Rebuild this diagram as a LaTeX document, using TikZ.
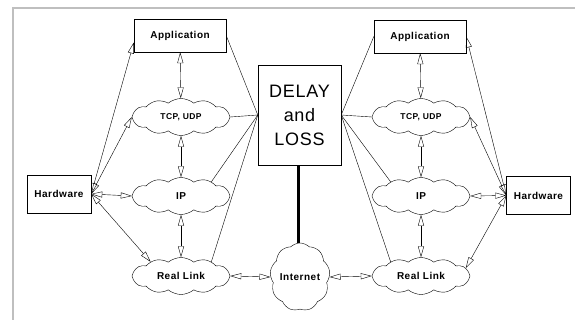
\documentclass[tikz,border=0pt]{standalone}
\usepackage{fontspec}
\setmainfont{Liberation Sans}
\newfontfamily\labelfont[LetterSpace=5]{Liberation Sans}
\newfontfamily\delayfont[LetterSpace=4]{Liberation Sans}
\usetikzlibrary{arrows.meta,shapes.symbols}
\tikzset{
    layerbox/.style={draw,thin,minimum width=92pt,minimum height=33pt,inner sep=0pt,font=\labelfont\bfseries\fontsize{10}{12}\selectfont},
    hwbox/.style={layerbox,minimum width=64pt,minimum height=38pt},
    layercloud/.style={draw,thin,cloud,cloud puffs=12,cloud puff arc=80,cloud ignores aspect,minimum width=98pt,minimum height=37pt,inner sep=0pt,font=\labelfont\bfseries\fontsize{10}{12}\selectfont},
    netcloud/.style={layercloud,cloud puffs=9,cloud puff arc=90,minimum width=60pt,minimum height=68pt},
    delaybox/.style={draw,thin,minimum width=83pt,minimum height=100pt,align=center,font=\delayfont\fontsize{18}{24}\selectfont},
    bidir/.style={{Triangle[open,length=11pt,width=6pt]}-{Triangle[open,length=11pt,width=6pt]},thin},
    tie/.style={thin},
    link/.style={line width=3pt},
    frame/.style={draw=black!25,line width=1.5pt}
}
\begin{document}
\begin{tikzpicture}[x=1pt,y=-1pt]
\useasboundingbox (0,0) rectangle (575,320);
\draw[frame] (13,320) -- (13,8) -- (575,8);

\node[layerbox] (appL) at (180,35.5) {Application};
\node[layercloud,font=\labelfont\bfseries\fontsize{8.5}{10}\selectfont] (tcpL) at (181,117) {TCP, UDP};
\node[layercloud] (ipL) at (181,196) {IP};
\node[layercloud] (rlL) at (181,276) {Real Link};
\node[hwbox] (hwL) at (59,194) {Hardware};

\node[layerbox] (appR) at (420,36.5) {Application};
\node[layercloud,font=\labelfont\bfseries\fontsize{8.5}{10}\selectfont] (tcpR) at (421,117) {TCP, UDP};
\node[layercloud] (ipR) at (421,196) {IP};
\node[layercloud] (rlR) at (421,276) {Real Link};
\node[hwbox] (hwR) at (538.5,195.5) {Hardware};

\node[delaybox] (delay) at (299.5,115) {DELAY\\and\\LOSS};
\node[netcloud] (internet) at (300,277) {Internet};

\foreach \s in {L,R}
	{\draw[bidir](app\s)--(tcp\s);
	 \draw[bidir](tcp\s)--(ip\s);
	 \draw[bidir](ip\s)--(rl\s);
	}

\draw[bidir](hwL.east)--([yshift=-7pt]appL.west);
\draw[bidir](hwL.east)--(tcpL.west);
\draw[bidir](hwL.east)--(ipL.west);
\draw[bidir](hwL.east)--(rlL.155);
\draw[bidir](hwR.west)--(appR.east);
\draw[bidir](hwR.west)--(tcpR.east);
\draw[bidir](hwR.west)--(ipR.east);
\draw[bidir](hwR.west)--(rlR.10);

\draw[tie](delay.west)--(appL.east);
\draw[tie](delay.west)--(tcpL.east);
\draw[tie](delay.west)--(ipL.25);
\draw[tie](delay.west)--(rlL.25);
\draw[tie](delay.east)--(appR.west);
\draw[tie](delay.east)--(tcpR.west);
\draw[tie](delay.east)--(ipR.155);
\draw[tie](delay.east)--(rlR.155);

\draw[bidir](rlL.east)--(internet.west);
\draw[bidir](internet.east)--(rlR.west);
\draw[link]([xshift=-1.5pt]delay.south)--([xshift=-2pt]internet.north);
\end{tikzpicture}
\end{document}
